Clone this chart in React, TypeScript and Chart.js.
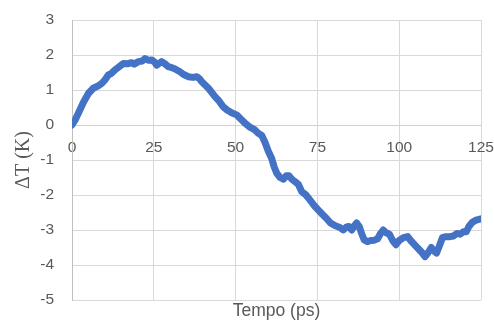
import React, { useEffect, useRef } from "react";
import { Chart, registerables } from "chart.js";

Chart.register(...registerables);

const times: number[] = [
  0, 1, 2.4, 3.5, 5, 6.5, 8, 9.1, 10, 11.1, 12, 13.1, 14.5, 15.7, 17, 18.2, 19, 20.3, 21.5, 22.3,
  23.3, 24.4, 25.2, 25.9, 26.6, 27.4, 28.4, 29.4, 30.5, 31.5, 33, 34, 35.5, 37, 38.1, 39, 39.6,
  40.6, 41.7, 42.7, 43.7, 45, 46.2, 47.5, 48.8, 50.3, 51.5, 52.9, 54.5, 55.9, 57, 58, 59, 60, 61,
  61.8, 62.6, 63.6, 64.6, 65.5, 66.3, 67.2, 68.2, 69.2, 70.2, 71.5, 72.7, 74, 75.3, 76.5, 77.8,
  79, 80.5, 81.7, 82.9, 83.8, 84.6, 85.5, 86.3, 87, 87.8, 88.5, 89.3, 90.3, 91.3, 92.4, 93.4,
  94.3, 95.1, 96, 97, 98, 99, 100, 101.3, 102.6, 103.5, 104.8, 106, 107, 107.9, 108.8, 109.8,
  110.6, 111.4, 112.3, 113.2, 114.3, 115.5, 116.6, 117.6, 118.6, 119.6, 120.5, 121.3, 122.3,
  123.5, 125,
];

const deltaT: number[] = [
  0, 0.15, 0.43, 0.65, 0.9, 1.05, 1.12, 1.19, 1.28, 1.43, 1.47, 1.57, 1.67, 1.76, 1.75, 1.78, 1.74,
  1.81, 1.83, 1.9, 1.85, 1.86, 1.8, 1.71, 1.76, 1.81, 1.75, 1.67, 1.64, 1.6, 1.52, 1.45, 1.38,
  1.36, 1.38, 1.32, 1.24, 1.15, 1.05, 0.93, 0.81, 0.68, 0.52, 0.42, 0.35, 0.29, 0.18, 0.05, -0.07,
  -0.14, -0.24, -0.3, -0.5, -0.75, -0.95, -1.2, -1.38, -1.5, -1.55, -1.45, -1.45, -1.55, -1.62,
  -1.7, -1.9, -2.0, -2.14, -2.3, -2.43, -2.55, -2.67, -2.8, -2.88, -2.92, -3.0, -2.92, -2.9, -3.0,
  -2.88, -2.8, -2.9, -3.1, -3.28, -3.33, -3.3, -3.29, -3.25, -3.1, -3.0, -3.08, -3.12, -3.3,
  -3.42, -3.3, -3.22, -3.19, -3.3, -3.43, -3.55, -3.65, -3.76, -3.65, -3.5, -3.6, -3.66, -3.45,
  -3.22, -3.19, -3.19, -3.17, -3.1, -3.12, -3.05, -3.05, -2.9, -2.78, -2.72, -2.68,
];

const xTickMin = 0;
const xTickMax = 125;
const xTickStep = 25;
const yTickMin = -5;
const yTickMax = 3;
const yTickStep = 1;

const xTitle = "Tempo (ps)";
const yTitle = "ΔT (K)";

export default function App() {
  const ref = useRef<HTMLCanvasElement>(null);

  useEffect(() => {
    if (!ref.current) return;
    const textColor = "#595959";
    const gridColor = "#d9d9d9";
    const sans = "'Liberation Sans', Arial, sans-serif";
    const chart = new Chart(ref.current, {
      type: "line",
      data: {
        datasets: [
          {
            data: times.map((t, i) => ({ x: t, y: deltaT[i] })),
            borderColor: "#4472C4",
            backgroundColor: "#4472C4",
            borderWidth: 7,
            pointRadius: 0,
            tension: 0,
            borderJoinStyle: "round",
            borderCapStyle: "round",
            fill: false,
          },
        ],
      },
      options: {
        animation: false,
        responsive: false,
        layout: { padding: { left: 0, right: 13, top: 20, bottom: 0 } },
        plugins: {
          legend: { display: false },
          tooltip: { enabled: false },
          title: { display: false },
        },
        scales: {
          x: {
            type: "linear",
            position: { y: 0 } as any,
            min: xTickMin,
            max: xTickMax,
            ticks: {
              stepSize: xTickStep,
              color: textColor,
              padding: 13,
              font: { family: sans, size: 15.5 },
              maxRotation: 0,
            },
            grid: { color: gridColor, drawTicks: false, lineWidth: 1 },
            border: { color: "#d0d0d0", width: 1 },
            afterFit: (scale: any) => {
              scale.height = 0;
              scale.paddingLeft = 0;
              scale.paddingRight = 0;
              scale.paddingTop = 0;
              scale.paddingBottom = 0;
            },
          },
          x2: {
            type: "linear",
            position: "bottom",
            min: xTickMin,
            max: xTickMax,
            ticks: { display: false },
            grid: { display: false, drawTicks: false },
            border: { display: false },
            title: {
              display: true,
              text: xTitle,
              color: textColor,
              font: { family: sans, size: 17.5, weight: "normal", lineHeight: 1 },
              padding: { top: 0, bottom: 2 },
            },
            afterFit: (scale: any) => {
              scale.height = 22;
              scale.paddingLeft = 0;
              scale.paddingRight = 0;
              scale.paddingTop = 0;
              scale.paddingBottom = 0;
            },
          },
          y: {
            min: yTickMin,
            max: yTickMax,
            ticks: {
              stepSize: yTickStep,
              color: textColor,
              padding: 18,
              font: { family: sans, size: 15.5 },
            },
            grid: { color: gridColor, drawTicks: false, lineWidth: 1 },
            border: { color: "#bfbfbf", width: 1 },
            title: {
              display: true,
              text: yTitle,
              color: textColor,
              font: { family: "'Liberation Serif', 'Times New Roman', serif", size: 20, weight: "normal", lineHeight: 1.2 },
              padding: { top: 12, bottom: 0 },
            },
            afterFit: (scale: any) => {
              scale.width = 72;
              scale.paddingLeft = 0;
              scale.paddingRight = 0;
              scale.paddingTop = 0;
              scale.paddingBottom = 0;
            },
          },
        },
      },
    });
    return () => chart.destroy();
  }, []);

  return (
    <div style={{ position: "fixed", left: 0, top: 0, width: 494, height: 322, background: "#fff" }}>
      <canvas ref={ref} width={494} height={322} style={{ display: "block" }} />
    </div>
  );
}
